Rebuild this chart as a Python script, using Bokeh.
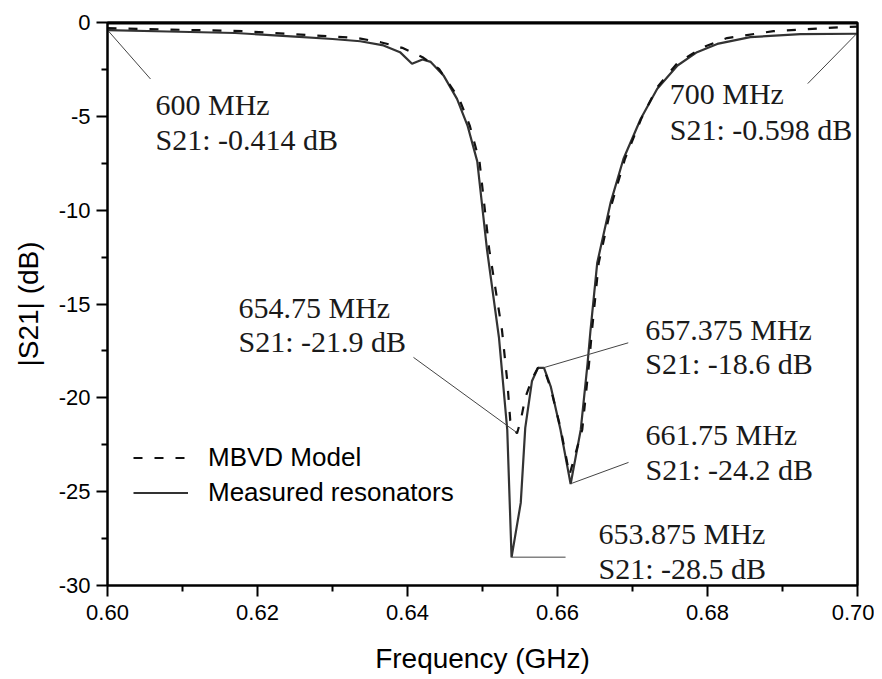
from bokeh.plotting import figure
from bokeh.models import FixedTicker, Legend, LegendItem, Range1d, LinearAxis
from bokeh.core.properties import value
from bokeh.embed import file_html
from bokeh.resources import INLINE

# ---------------- data ----------------
meas_f = [0.6000, 0.6080, 0.6170, 0.6250, 0.6300, 0.6337, 0.6368, 0.6390, 0.6406,
          0.6420, 0.6431, 0.6448, 0.6466, 0.6480, 0.6493, 0.6506, 0.6522, 0.6533,
          0.653875, 0.6551, 0.6557, 0.6566, 0.6574, 0.6582, 0.6591, 0.6604, 0.66175,
          0.6631, 0.6640, 0.6644, 0.6653, 0.6671, 0.6688, 0.6711, 0.6733, 0.6760,
          0.6786, 0.6813, 0.6857, 0.6924, 0.7000]
meas_db = [-0.41, -0.48, -0.56, -0.75, -0.88, -1.00, -1.22, -1.58, -2.20,
           -1.97, -2.10, -2.82, -4.07, -5.49, -7.40, -12.1, -16.8, -21.7,
           -28.5, -25.6, -21.6, -19.1, -18.4, -18.4, -19.4, -21.7, -24.6,
           -21.7, -18.2, -16.4, -12.8, -9.57, -7.26, -5.13, -3.53, -2.29,
           -1.58, -1.14, -0.78, -0.62, -0.60]

model_f = [0.6000, 0.6180, 0.6333, 0.6364, 0.6393, 0.6420, 0.6442, 0.6469, 0.6483,
           0.6496, 0.6509, 0.6526, 0.6533, 0.6537, 0.6546, 0.6551, 0.6557, 0.6566,
           0.6574, 0.6582, 0.6591, 0.6604, 0.6616, 0.6633, 0.6642, 0.6646, 0.6655,
           0.6673, 0.6690, 0.6712, 0.6733, 0.6760, 0.6795, 0.6826, 0.6888, 0.6977,
           0.7000]
model_db = [-0.30, -0.46, -0.83, -1.05, -1.35, -1.85, -2.47, -4.07, -5.49,
            -7.40, -12.1, -16.4, -19.1, -21.2, -21.9, -21.2, -20.0, -19.0,
            -18.4, -18.45, -19.5, -21.6, -24.1, -21.7, -18.2, -16.4, -12.8,
            -9.57, -7.26, -5.10, -3.45, -2.15, -1.30, -0.83, -0.46, -0.25,
            -0.22]

x_ticks = [0.60, 0.62, 0.64, 0.66, 0.68, 0.70]
x_tick_labels = ["0.60", "0.62", "0.64", "0.66", "0.68", "0.70"]
x_minor = [0.61, 0.63, 0.65, 0.67, 0.69]
y_ticks = [0, -5, -10, -15, -20, -25, -30]
y_tick_labels = ["0", "-5", "-10", "-15", "-20", "-25", "-30"]
y_minor = [-2.5, -7.5, -12.5, -17.5, -22.5, -27.5]

ann_line1 = ["600 MHz", "700 MHz", "654.75 MHz", "657.375 MHz", "661.75 MHz", "653.875 MHz"]
ann_line2 = ["S21: -0.414 dB", "S21: -0.598 dB", "S21: -21.9 dB", "S21: -18.6 dB",
             "S21: -24.2 dB", "S21: -28.5 dB"]
# points on the curves where the leader lines start
anchor_f = [0.6000, 0.6999, 0.65453, 0.6581, 0.66187, 0.653875]
anchor_db = [-0.40, -0.59, -21.84, -18.4, -24.56, -28.49]

# ---------------- layout (screen px offsets from anchors, y down) ----------------
leader_dx = [43, -49, -103, 85, 57, 54]
leader_dy = [49, 50, -75, -25, -21, 0]
text_dx = [48, -187, -278, 102, 74, 87]
text_dy1 = [74, 60, -125, -38, -49, -24]
text_dy2 = [109, 96, -91, -4, -14, 11]

X0, X1, Y0, Y1 = 0.6, 0.7, -30, 0
FW, FH = 750, 563
gx = (X1 - X0) / FW
gy = (Y1 - Y0) / FH

p = figure(width=874, height=679, output_backend="svg", toolbar_location=None,
           x_range=Range1d(X0, X1), y_range=Range1d(Y0, Y1),
           min_border_left=107, min_border_right=17, min_border_top=22, min_border_bottom=94,
           background_fill_color="white", border_fill_color="white")
p.xgrid.visible = False
p.ygrid.visible = False
p.outline_line_color = "black"
p.outline_line_width = 2

r_meas = p.line(meas_f, meas_db, line_color="#333333", line_width=2.2)
r_model = p.line(model_f, model_db, line_color="#111111", line_width=2.2, line_dash="9 12")

# top frame edge (half of it lies inside the frame)
p.segment(x0=[X0], y0=[Y1], x1=[X1], y1=[Y1], line_color="black", line_width=4)

# leader lines
lx1 = [f + dx * gx for f, dx in zip(anchor_f, leader_dx)]
ly1 = [d - dy * gy for d, dy in zip(anchor_db, leader_dy)]
p.segment(x0=anchor_f, y0=anchor_db, x1=lx1, y1=ly1, line_color="#444444", line_width=1)

tx = [f + dx * gx for f, dx in zip(anchor_f, text_dx)]
ty1 = [d - dy * gy for d, dy in zip(anchor_db, text_dy1)]
ty2 = [d - dy * gy for d, dy in zip(anchor_db, text_dy2)]
for ys, txt in ((ty1, ann_line1), (ty2, ann_line2)):
    p.text(x=tx, y=ys, text=txt, text_font=value("Liberation Serif"), text_font_size="30px",
           text_baseline="alphabetic", text_align="left", text_color="#1a1a1a")

for ax, ticks, minor, labels in ((p.xaxis, x_ticks, x_minor, x_tick_labels),
                                 (p.yaxis, y_ticks, y_minor, y_tick_labels)):
    ax.ticker = FixedTicker(ticks=ticks, minor_ticks=minor)
    ax.major_label_overrides = dict(zip(ticks, labels))
    ax.axis_line_width = 2
    ax.axis_line_color = "black"
    ax.major_tick_line_width = 2
    ax.minor_tick_line_width = 2
    ax.major_tick_line_color = "black"
    ax.minor_tick_line_color = "black"
    ax.major_tick_out = 11
    ax.major_tick_in = 0
    ax.minor_tick_out = 6
    ax.minor_tick_in = 0
    ax.major_label_text_font = "Liberation Sans"
    ax.major_label_text_font_size = "22px"
    ax.major_label_text_color = "black"
    ax.axis_label_text_font = "Liberation Sans"
    ax.axis_label_text_font_size = "28px"
    ax.axis_label_text_font_style = "normal"
    ax.axis_label_text_color = "black"

p.xaxis.axis_label = "Frequency (GHz)"
p.yaxis.axis_label = "|S21| (dB)"
p.xaxis.major_label_standoff = 8
p.yaxis.major_label_standoff = 6
p.xaxis.axis_label_standoff = 20
p.yaxis.axis_label_standoff = 12

# plain frame lines on the top and right (no ticks, no labels)
for place in ("above", "right"):
    fr = LinearAxis(ticker=FixedTicker(ticks=[]), axis_line_width=2, axis_line_color="black",
                    major_tick_out=0, major_tick_in=0, minor_tick_out=0, minor_tick_in=0,
                    major_label_text_font_size="0px")
    p.add_layout(fr, place)

legend = Legend(items=[LegendItem(label="MBVD Model", renderers=[r_model]),
                       LegendItem(label="Measured resonators", renderers=[r_meas])],
                location=(26, 75))
legend.label_text_font = "Liberation Sans"
legend.label_text_font_size = "26px"
legend.label_text_color = "black"
legend.glyph_width = 55
legend.glyph_height = 35
legend.label_height = 35
legend.label_standoff = 20
legend.spacing = 0
legend.padding = 0
legend.margin = 0
legend.border_line_alpha = 0
legend.background_fill_alpha = 0
p.add_layout(legend)

open("out.html", "w").write(file_html(p, INLINE))
